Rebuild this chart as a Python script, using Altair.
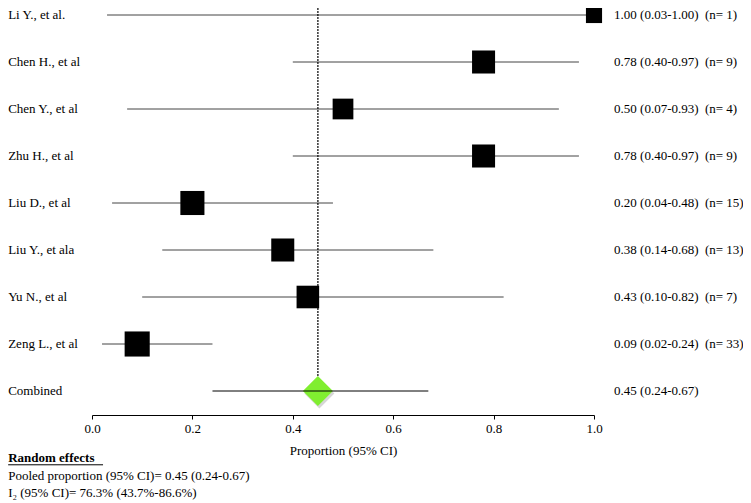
import altair as alt
import pandas as pd

studies = ["Li Y., et al.", "Chen H., et al", "Chen Y., et al", "Zhu H., et al",
           "Liu D., et al", "Liu Y., et ala", "Yu N., et al", "Zeng L., et al"]
est = [1.00, 0.78, 0.50, 0.78, 0.20, 0.38, 0.43, 0.09]
lo = [0.03, 0.40, 0.07, 0.40, 0.04, 0.14, 0.10, 0.02]
hi = [1.00, 0.97, 0.93, 0.97, 0.48, 0.68, 0.82, 0.24]
n = [1, 9, 4, 9, 15, 13, 7, 33]
weights = [2.6, 5.3, 4.3, 5.3, 5.8, 5.3, 5.1, 6.3]
est_labels = ["1.00 (0.03-1.00)", "0.78 (0.40-0.97)", "0.50 (0.07-0.93)", "0.78 (0.40-0.97)",
              "0.20 (0.04-0.48)", "0.38 (0.14-0.68)", "0.43 (0.10-0.82)", "0.09 (0.02-0.24)"]
n_labels = ["(n= %d)" % v for v in n]

pooled = 0.45
pooled_lo = 0.24
pooled_hi = 0.67
pooled_label = "0.45 (0.24-0.67)"

notes = ["Random effects",
         "Pooled proportion (95% CI)= 0.45 (0.24-0.67)",
         "I\u2082 (95% CI)= 76.3% (43.7%-86.6%)"]

FONT = "Liberation Serif"

df = pd.DataFrame({
    "study": studies, "est": est, "lo": lo, "hi": hi, "w": weights,
    "elab": est_labels, "nlab": n_labels, "row": list(range(len(studies))),
})
comb = pd.DataFrame({"study": ["Combined"], "est": [pooled], "lo": [pooled_lo],
                     "hi": [pooled_hi], "elab": [pooled_label], "row": [len(studies)]})
labels_df = pd.concat([df[["study", "row"]], comb[["study", "row"]]], ignore_index=True)
labels_df["xl"] = -0.167
df["xe"] = 1.04
df["xn"] = 1.221
comb["xe"] = 1.04

notes_df = pd.DataFrame({"txt": notes, "row": [9.43, 9.81, 10.17], "xl": -0.167})
underline_df = pd.DataFrame({"x1": [-0.167], "x2": [0.022], "row": [9.57]})
vline_df = pd.DataFrame({"x": [pooled], "y1": [-0.149], "y2": [7.68]})

xs = alt.Scale(domain=[0, 1], range=[84, 586], nice=False, zero=False)
ys = alt.Scale(domain=[0, 8], range=[4, 380], nice=False, zero=False)
xaxis = alt.Axis(values=[0, 0.2, 0.4, 0.6, 0.8, 1.0], format=".1f", grid=False,
                 title="Proportion (95% CI)", tickSize=4, domainColor="#000",
                 tickColor="#000", labelColor="#000", titleColor="#000",
                 labelFont=FONT, labelFontSize=13, titleFont=FONT, titleFontSize=13,
                 titleFontWeight="normal", titlePadding=9, labelPadding=3,
                 labelFlush=False)


def X(field):
    return alt.X(field, type="quantitative", scale=xs, axis=xaxis)


def Y(field):
    return alt.Y(field, type="quantitative", scale=ys, axis=None)


ci = alt.Chart(df).mark_rule(color="#444", strokeWidth=1).encode(
    x=X("lo"), x2="hi", y=Y("row"))

vline = alt.Chart(vline_df).mark_rule(color="#000", strokeWidth=1.2, strokeDash=[2, 1]).encode(
    x=X("x"), y=Y("y1"), y2="y2")

squares = alt.Chart(df).mark_square(color="#000", opacity=1, filled=True).encode(
    x=X("est"), y=Y("row"),
    size=alt.Size("w", type="quantitative", scale=alt.Scale(domain=[0, 10], range=[0, 1000]),
                  legend=None))

shadow = alt.Chart(comb).mark_point(shape="diamond", filled=True, color="#999", opacity=0.4,
                                    size=900, xOffset=1.5, yOffset=2.5).encode(
    x=X("est"), y=Y("row"))
diamond = alt.Chart(comb).mark_point(shape="diamond", filled=True, color="#80EE30", opacity=1,
                                     size=900).encode(x=X("est"), y=Y("row"))
comb_ci = alt.Chart(comb).mark_rule(color="#000", strokeWidth=1).encode(
    x=X("lo"), x2="hi", y=Y("row"))

left_txt = alt.Chart(labels_df).mark_text(align="left", baseline="middle", font=FONT,
                                          fontSize=13, color="#000").encode(
    x=X("xl"), y=Y("row"), text="study")
est_txt = alt.Chart(pd.concat([df[["xe", "row", "elab"]], comb[["xe", "row", "elab"]]])).mark_text(
    align="left", baseline="middle", font=FONT, fontSize=13, color="#000").encode(
    x=X("xe"), y=Y("row"), text="elab")
n_txt = alt.Chart(df).mark_text(align="left", baseline="middle", font=FONT, fontSize=13,
                                color="#000").encode(x=X("xn"), y=Y("row"), text="nlab")

notes_bold = alt.Chart(notes_df.iloc[:1]).mark_text(align="left", baseline="middle", font=FONT,
                                                    fontSize=13, fontWeight="bold",
                                                    color="#000").encode(
    x=X("xl"), y=Y("row"), text="txt")
notes_norm = alt.Chart(notes_df.iloc[1:]).mark_text(align="left", baseline="middle", font=FONT,
                                                    fontSize=13, color="#000").encode(
    x=X("xl"), y=Y("row"), text="txt")
underline = alt.Chart(underline_df).mark_rule(color="#000", strokeWidth=1).encode(
    x=X("x1"), x2="x2", y=Y("row"))

chart = alt.layer(
    ci, vline, squares, shadow, diamond, comb_ci, left_txt, est_txt, n_txt,
    notes_bold, notes_norm, underline
).properties(
    width=735, height=404,
    autosize=alt.AutoSizeParams(type="none"),
    padding={"left": 0, "right": 0, "top": 3, "bottom": 88},
).configure_view(stroke=None)

chart.save("out.html", embed_options={"renderer": "svg", "actions": False})
